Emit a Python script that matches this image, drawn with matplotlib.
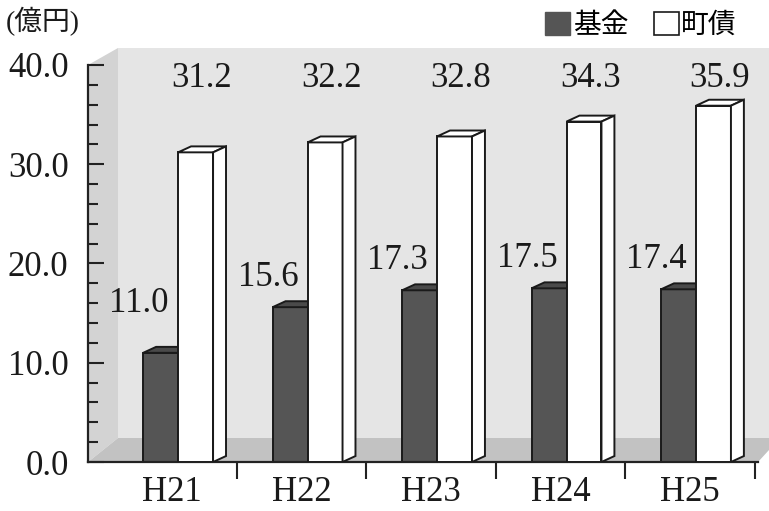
import matplotlib.pyplot as plt
from matplotlib.patches import Polygon, Patch
from matplotlib.ticker import MultipleLocator, FixedLocator

# データ
years = ['H21', 'H22', 'H23', 'H24', 'H25']
kikin = [11.0, 15.6, 17.3, 17.5, 17.4]     # 基金
chosai = [31.2, 32.2, 32.8, 34.3, 35.9]    # 町債

serif = ['Liberation Serif', 'Noto Sans CJK JP']
jp = ['Noto Sans CJK JP', 'DejaVu Sans']

W, H = 769, 511
fig = plt.figure(figsize=(W / 100, H / 100), dpi=100)

# 背景の壁と床 (ピクセル座標)
bg = fig.add_axes([0, 0, 1, 1])
bg.set_xlim(0, W)
bg.set_ylim(H, 0)
bg.axis('off')
bg.add_patch(Polygon([(118, 48), (W, 48), (W, 438), (118, 438)], closed=True,
                     fc='#e5e5e5', ec='none'))
bg.add_patch(Polygon([(88, 65), (118, 48), (118, 438), (88, 462)], closed=True,
                     fc='#d3d3d3', ec='none'))
bg.add_patch(Polygon([(88, 462), (118, 438), (W, 438), (W, 450), (758, 462)],
                     closed=True, fc='#c2c2c2', ec='none'))

# メインの軸
ax = fig.add_axes([88 / W, (H - 462) / H, 670 / W, 397 / H])
ax.patch.set_alpha(0)
ax.set_xlim(-0.65, 4.525)
ax.set_ylim(0, 40)
for s in ['top', 'right']:
    ax.spines[s].set_visible(False)
for s in ['left', 'bottom']:
    ax.spines[s].set_linewidth(1.6)
    ax.spines[s].set_color('#222222')

w = 0.27          # 棒の幅
dx, dy = 0.10, 0.6  # 奥行き
off = -0.224

x_dark = [i + off for i in range(len(years))]
x_white = [i + off + w for i in range(len(years))]

ax.bar(x_dark, kikin, width=w, align='edge', color='#555555',
       edgecolor='#1a1a1a', linewidth=1.4, zorder=2)
for x0, v in zip(x_dark, kikin):
    ax.add_patch(Polygon([(x0, v), (x0 + dx, v + dy), (x0 + w + dx, v + dy), (x0 + w, v)],
                         closed=True, fc='#4a4a4a', ec='#1a1a1a', lw=1.4, zorder=2))

ax.bar(x_white, chosai, width=w, align='edge', color='white',
       edgecolor='#1a1a1a', linewidth=1.4, zorder=3)
for x0, v in zip(x_white, chosai):
    x1 = x0 + w
    ax.add_patch(Polygon([(x0, v), (x0 + dx, v + dy), (x1 + dx, v + dy), (x1, v)],
                         closed=True, fc='white', ec='#1a1a1a', lw=1.4, zorder=3))
    ax.add_patch(Polygon([(x1, 0), (x1 + dx, dy), (x1 + dx, v + dy), (x1, v)],
                         closed=True, fc='white', ec='#1a1a1a', lw=1.4, zorder=3))

# 数値ラベル
for x0, v in zip(x_dark, kikin):
    ax.text(x0 + w / 2 - 0.17, max(v + 3.0, 16.0), f'{v:.1f}', ha='center', va='center',
            fontsize=25, family=serif, color='#1a1a1a', zorder=4)
for x0, v in zip(x_white, chosai):
    ax.text(x0 + w / 2 + 0.05, 38.6, f'{v:.1f}', ha='center', va='center',
            fontsize=25, family=serif, color='#1a1a1a', zorder=4)

# 軸の目盛り
ax.yaxis.set_major_locator(MultipleLocator(10))
ax.yaxis.set_minor_locator(MultipleLocator(2))
ax.set_yticklabels([f'{t:.1f}' for t in ax.get_yticks()])
ax.tick_params(axis='y', which='major', direction='in', length=11.5, width=1.5,
               pad=14, labelsize=25, color='#222222')
ax.tick_params(axis='y', which='minor', direction='in', length=7, width=1.5,
               color='#222222')

ax.set_xticks(range(len(years)))
ax.set_xticklabels(years)
ax.xaxis.set_minor_locator(FixedLocator([i + 0.5 for i in range(len(years))]))
ax.tick_params(axis='x', which='major', length=0, pad=10, labelsize=25)
ax.tick_params(axis='x', which='minor', direction='out', length=12, width=1.5,
               color='#222222')
for lab in ax.get_xticklabels() + ax.get_yticklabels():
    lab.set_family(serif)
    lab.set_color('#1a1a1a')

# 単位と凡例
fig.text(6 / W, 1 - 22 / H, '(億円)', ha='left', va='center', fontsize=20,
         family=serif, color='#1a1a1a')
handles = [Patch(fc='#555555', ec='#555555'), Patch(fc='white', ec='#1a1a1a', lw=1.2)]
fig.legend(handles, ['基金', '町債'], loc='center right',
           bbox_to_anchor=(748 / W, 1 - 25 / H), ncol=2, frameon=False,
           prop={'family': jp, 'size': 20}, handlelength=0.9, handleheight=0.9,
           handletextpad=0.1, columnspacing=0.9, borderaxespad=0)

fig.savefig('out.png', dpi=100)
